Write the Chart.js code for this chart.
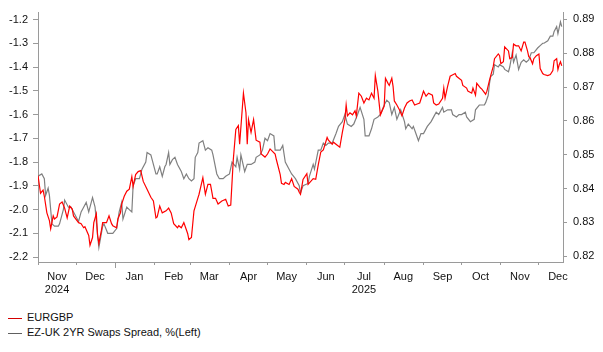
<!DOCTYPE html>
<html>
<head>
<meta charset="utf-8">
<script src="https://cdn.jsdelivr.net/npm/chart.js@4.4.1/dist/chart.umd.min.js"></script>
<style>
  body { margin:0; background:#fff; }
  #wrap { position:relative; width:603px; height:352px; }
  #legend { position:absolute; left:8px; top:310px; font:11px "Liberation Sans", Arial, sans-serif; color:#111; }
  .item { height:15px; line-height:15px; white-space:nowrap; }
  .swatch { display:inline-block; width:14px; height:1px; vertical-align:middle; margin-right:5px; }
</style>
</head>
<body>
<div id="wrap">
  <canvas id="chart" width="603" height="300"></canvas>
  <div id="legend"></div>
</div>
<script>
// day 0 = 1 Nov 2024
const START = Date.UTC(2024, 10, 1);

const eurgbpDays = [0,2,4,5,7,9,10,12,13,15,
  17,19,21,23,25,27,28,32,34,36,
  37,40,41,43,44,46,47,48,50,51,
  54,56,58,59,62,63,65,66,68,70,
  72,74,75,77,79,81,83,86,89,91,
  93,94,96,98,101,103,105,107,110,111,
  113,115,118,119,121,123,126,127,130,132,
  134,136,138,140,142,145,148,150,152,154,
  156,158,159,162,164,165,166,168,170,172,
  175,176,179,181,183,187,188,191,192,194,
  195,198,200,202,205,206,207,209,212,213,
  217,219,221,223,225,228,229,232,233,236,
  238,240,242,243,244,246,248,250,251,253,
  255,257,259,261,263,265,266,268,270,273,
  274,276,277,279,280,281,283,285,287,289,
  291,293,295,297,299,301,303,304,306,308,
  311,312,314,316,319,320,321,323,325,326,
  329,330,334,335,338,339,342,343,345,346,
  349,350,353,354,356,357,359,360,363,364,
  365,367,368,371,372,374,375,377,379,381,
  383,384,386,387,388,390,391,393,395,396,
  398,399,402,404,406,407,409,410,411,412,
  413];

const eurgbpValues = [0.8438,0.8386,0.8395,0.8377,0.8328,0.8305,0.8281,0.8319,0.8310,0.8316,
  0.8354,0.8360,0.8342,0.8313,0.8348,0.8339,0.8319,0.8299,0.8296,0.8284,
  0.8287,0.8261,0.8232,0.8255,0.8299,0.8325,0.8261,0.8238,0.8276,0.8299,
  0.8299,0.8319,0.8296,0.8290,0.8284,0.8310,0.8328,0.8354,0.8377,0.8392,
  0.8398,0.8435,0.8406,0.8441,0.8450,0.8453,0.8421,0.8398,0.8374,0.8363,
  0.8313,0.8316,0.8348,0.8328,0.8334,0.8342,0.8328,0.8296,0.8284,0.8290,
  0.8284,0.8299,0.8267,0.8249,0.8255,0.8334,0.8371,0.8383,0.8432,0.8383,
  0.8412,0.8412,0.8371,0.8371,0.8354,0.8363,0.8368,0.8348,0.8351,0.8485,
  0.8575,0.8586,0.8531,0.8682,0.8624,0.8531,0.8604,0.8566,0.8604,0.8543,
  0.8537,0.8502,0.8493,0.8502,0.8517,0.8502,0.8485,0.8441,0.8415,0.8412,
  0.8418,0.8412,0.8429,0.8406,0.8398,0.8389,0.8383,0.8427,0.8444,0.8412,
  0.8429,0.8427,0.8470,0.8508,0.8514,0.8551,0.8543,0.8531,0.8537,0.8528,
  0.8522,0.8566,0.8604,0.8647,0.8615,0.8624,0.8618,0.8630,0.8615,0.8682,
  0.8673,0.8653,0.8667,0.8662,0.8682,0.8667,0.8734,0.8688,0.8618,0.8644,
  0.8726,0.8711,0.8705,0.8726,0.8702,0.8659,0.8647,0.8633,0.8615,0.8638,
  0.8653,0.8659,0.8662,0.8647,0.8650,0.8653,0.8676,0.8688,0.8673,0.8682,
  0.8676,0.8653,0.8647,0.8650,0.8667,0.8697,0.8667,0.8702,0.8732,0.8734,
  0.8740,0.8732,0.8720,0.8705,0.8697,0.8688,0.8682,0.8697,0.8676,0.8711,
  0.8697,0.8694,0.8679,0.8688,0.8720,0.8734,0.8761,0.8784,0.8798,0.8793,
  0.8769,0.8775,0.8819,0.8807,0.8784,0.8787,0.8827,0.8822,0.8822,0.8807,
  0.8833,0.8833,0.8807,0.8790,0.8787,0.8769,0.8784,0.8793,0.8798,0.8755,
  0.8740,0.8737,0.8734,0.8737,0.8749,0.8778,0.8784,0.8752,0.8766,0.8775,
  0.8763];

const spreadDays = [0,3,5,6,8,9,11,13,16,17,
  20,21,24,26,28,32,34,36,38,40,
  42,43,45,47,48,51,52,55,57,59,
  62,64,66,67,70,72,74,75,77,80,
  82,85,86,89,90,93,94,96,98,100,
  101,103,104,106,108,110,113,115,117,119,
  121,123,124,126,127,130,132,134,137,138,
  141,143,146,148,151,153,156,157,159,160,
  163,165,168,171,172,175,177,179,181,183,
  186,187,191,193,195,198,200,203,206,207,
  209,213,214,217,218,221,223,225,227,229,
  232,235,237,240,242,244,247,249,252,254,
  257,258,261,263,265,268,270,273,275,277,
  279,281,283,286,289,290,292,295,296,298,
  300,302,304,307,310,312,314,316,319,320,
  323,326,327,330,332,334,337,338,341,344,
  345,348,350,352,353,355,356,357,359,360,
  363,364,367,368,371,372,374,375,377,379,
  381,383,385,387,389,391,394,396,398,399,
  402,404,406,407,409,410,412,413];

const spreadValues = [-1.86,-1.85,-1.87,-1.94,-1.91,-1.94,-2.06,-2.07,-2.07,-2.06,
  -2.00,-1.96,-1.99,-1.99,-2.01,-2.05,-2.01,-1.99,-1.97,-2.01,
  -1.97,-1.95,-1.99,-2.11,-2.16,-2.07,-2.06,-2.10,-2.10,-2.10,
  -2.08,-2.01,-1.97,-2.04,-1.99,-2.00,-2.01,-1.90,-1.87,-1.87,
  -1.83,-1.80,-1.76,-1.77,-1.79,-1.85,-1.85,-1.82,-1.86,-1.82,
  -1.81,-1.76,-1.81,-1.79,-1.78,-1.81,-1.84,-1.87,-1.85,-1.87,
  -1.88,-1.87,-1.78,-1.76,-1.72,-1.71,-1.75,-1.74,-1.75,-1.77,
  -1.85,-1.87,-1.87,-1.86,-1.85,-1.80,-1.82,-1.78,-1.83,-1.77,
  -1.84,-1.81,-1.81,-1.80,-1.78,-1.77,-1.75,-1.70,-1.71,-1.68,
  -1.69,-1.75,-1.75,-1.73,-1.80,-1.83,-1.85,-1.87,-1.90,-1.93,
  -1.90,-1.89,-1.86,-1.81,-1.83,-1.75,-1.75,-1.72,-1.73,-1.72,
  -1.72,-1.68,-1.65,-1.63,-1.60,-1.64,-1.65,-1.64,-1.60,-1.57,
  -1.62,-1.69,-1.69,-1.66,-1.62,-1.61,-1.60,-1.56,-1.54,-1.55,
  -1.60,-1.57,-1.62,-1.58,-1.63,-1.66,-1.64,-1.66,-1.65,-1.68,
  -1.71,-1.68,-1.68,-1.65,-1.63,-1.61,-1.59,-1.60,-1.57,-1.59,
  -1.58,-1.58,-1.60,-1.61,-1.60,-1.60,-1.59,-1.61,-1.63,-1.62,
  -1.58,-1.56,-1.56,-1.56,-1.55,-1.52,-1.47,-1.44,-1.43,-1.39,
  -1.40,-1.39,-1.40,-1.41,-1.42,-1.40,-1.34,-1.38,-1.35,-1.41,
  -1.38,-1.37,-1.38,-1.37,-1.34,-1.34,-1.32,-1.31,-1.30,-1.30,
  -1.29,-1.27,-1.27,-1.25,-1.23,-1.26,-1.21,-1.23];

const leftTicks = [-2.2,-2.1,-2.0,-1.9,-1.8,-1.7,-1.6,-1.5,-1.4,-1.3,-1.2];
const rightTicks = [0.82,0.83,0.84,0.85,0.86,0.87,0.88,0.89];

// months shown on the axis (year, month index)
const months = [[2024,10],[2024,11],[2025,0],[2025,1],[2025,2],[2025,3],[2025,4],
  [2025,5],[2025,6],[2025,7],[2025,8],[2025,9],[2025,10],[2025,11]];
const monthLabels = [["Nov","2024"],"Dec","Jan","Feb","Mar","Apr","May",
  "Jun",["Jul","2025"],"Aug","Sep","Oct","Nov","Dec"];

const seriesNames = ["EURGBP", "EZ-UK 2YR Swaps Spread, %(Left)"];
const seriesColors = ["#ff0000", "#808080"];
const legendColors = ["#d40000", "#606060"];

function dayOf(y, m, d){
  return Math.round((Date.UTC(y, m, d) - START) / 86400000);
}

const boundaryDays = months.map(m => dayOf(m[0], m[1], 1));
const midDays = months.map(m => dayOf(m[0], m[1], 16));
const yearDay = dayOf(2025, 0, 1);

const gridGray = "#9a9a9a";
Chart.defaults.font = { family: "'Liberation Sans', Arial, sans-serif", size: 11 };
Chart.defaults.color = "#111";

new Chart(document.getElementById("chart"), {
  type: "line",
  data: {
    datasets: [{
      label: seriesNames[0],
      data: eurgbpDays.map((d, i) => ({ x: d, y: eurgbpValues[i] })),
      borderColor: seriesColors[0],
      borderWidth: 1.2,
      pointRadius: 0,
      yAxisID: "yR",
      xAxisID: "x"
    }, {
      label: seriesNames[1],
      data: spreadDays.map((d, i) => ({ x: d, y: spreadValues[i] })),
      borderColor: seriesColors[1],
      borderWidth: 1.2,
      pointRadius: 0,
      yAxisID: "yL",
      xAxisID: "x"
    }]
  },
  options: {
    responsive: false,
    animation: false,
    devicePixelRatio: 1,
    layout: { padding: { top: 8, left: 0, right: 0, bottom: 0 } },
    plugins: { legend: { display: false }, tooltip: { enabled: false } },
    scales: {
      x: {
        type: "linear",
        position: "bottom",
        weight: 0,
        min: 0,
        max: 414,
        afterBuildTicks: s => { s.ticks = boundaryDays.map(v => ({ value: v })); },
        afterFit: s => { s.height = 3; },
        ticks: { display: false },
        grid: { drawOnChartArea: false, drawTicks: true, tickLength: 3, color: gridGray },
        border: { color: gridGray }
      },
      xl: {
        type: "linear",
        position: "bottom",
        weight: 1,
        min: 0,
        max: 414,
        afterBuildTicks: s => {
          s.ticks = [{ value: yearDay }].concat(midDays.map(v => ({ value: v })));
        },
        afterFit: s => { s.height = 35; },
        ticks: {
          autoSkip: false,
          maxRotation: 0,
          padding: 2,
          callback: v => {
            const i = midDays.indexOf(v);
            return i < 0 ? "" : monthLabels[i];
          }
        },
        grid: {
          drawOnChartArea: false,
          tickLength: 3,
          color: c => (c.tick && c.tick.value === yearDay) ? gridGray : "rgba(0,0,0,0)"
        },
        border: { display: false }
      },
      yL: {
        type: "linear",
        position: "left",
        min: -2.2207,
        max: -1.171,
        afterBuildTicks: s => { s.ticks = leftTicks.map(v => ({ value: v })); },
        afterFit: s => { s.width = 38; },
        ticks: { padding: 5, callback: v => v.toFixed(1) },
        grid: { drawOnChartArea: false, tickLength: 5, color: gridGray },
        border: { color: gridGray }
      },
      yR: {
        type: "linear",
        position: "right",
        min: 0.81826,
        max: 0.89203,
        afterBuildTicks: s => { s.ticks = rightTicks.map(v => ({ value: v })); },
        afterFit: s => { s.width = 40; },
        ticks: { padding: 6, callback: v => v.toFixed(2) },
        grid: { drawOnChartArea: false, tickLength: 4, color: gridGray },
        border: { color: gridGray }
      }
    }
  }
});

// legend below the chart
const legend = document.getElementById("legend");
seriesNames.forEach((name, i) => {
  const row = document.createElement("div");
  row.className = "item";
  const sw = document.createElement("span");
  sw.className = "swatch";
  sw.style.background = legendColors[i];
  row.appendChild(sw);
  row.appendChild(document.createTextNode(name));
  legend.appendChild(row);
});
</script>
</body>
</html>
